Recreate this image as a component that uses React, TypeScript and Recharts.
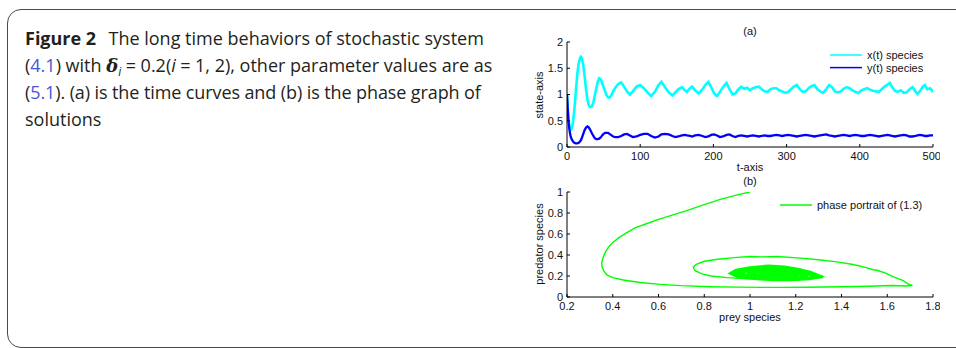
import { LineChart, Line, XAxis, YAxis, Legend } from "recharts";

// time curves, panel (a)
const timeT = [
  0, 1, 2, 3, 4, 5, 6, 8, 10, 12, 14, 16, 18, 19, 20, 22, 24, 26, 28, 30, 32, 34, 36, 38, 40, 42, 44,
  46, 48, 50, 52, 54, 56, 58, 60, 63, 66, 70, 74, 78, 82, 86, 90, 95, 100, 105, 110, 115, 120, 125,
  129, 134, 139, 144, 148, 152, 157, 161, 164, 168, 171, 175, 180, 185, 189, 193, 197, 201, 205, 209,
  213, 218, 222, 226, 230, 234, 238, 242, 246, 250, 254, 258, 262, 266, 270, 274, 278, 282, 286, 290,
  294, 298, 302, 306, 310, 314, 318, 322, 326, 330, 334, 338, 342, 346, 350, 354, 358, 362, 366, 370,
  374, 378, 382, 386, 390, 394, 398, 402, 406, 410, 414, 418, 422, 426, 430, 434, 438, 441, 444, 448,
  452, 456, 460, 464, 468, 472, 476, 479, 482, 486, 489, 492, 496, 500,
];
const preyX = [
  1.0, 0.75, 0.55, 0.43, 0.36, 0.33, 0.34, 0.45, 0.7, 1.05, 1.38, 1.6, 1.7, 1.72, 1.7, 1.58, 1.36, 1.1,
  0.9, 0.79, 0.76, 0.77, 0.85, 0.98, 1.12, 1.24, 1.31, 1.29, 1.22, 1.14, 1.06, 0.99, 0.95, 0.94, 0.97,
  1.06, 1.13, 1.2, 1.23, 1.15, 1.06, 1.0, 1.06, 1.15, 1.18, 1.12, 1.04, 0.97, 1.05, 1.18, 1.24, 1.14,
  1.04, 0.98, 1.04, 1.1, 1.14, 1.08, 1.05, 1.12, 1.15, 1.08, 1.02, 1.1, 1.18, 1.24, 1.14, 1.02, 0.97,
  1.05, 1.14, 1.22, 1.1, 1.0, 1.02, 1.1, 1.15, 1.11, 1.13, 1.08, 1.12, 1.14, 1.15, 1.1, 1.06, 1.05,
  1.1, 1.12, 1.12, 1.08, 1.06, 1.03, 1.05, 1.1, 1.15, 1.18, 1.1, 1.05, 1.06, 1.12, 1.16, 1.18, 1.1,
  1.06, 1.03, 1.1, 1.18, 1.14, 1.06, 1.04, 1.06, 1.11, 1.14, 1.12, 1.08, 1.05, 1.03, 1.08, 1.1, 1.12,
  1.09, 1.07, 1.06, 1.05, 1.1, 1.15, 1.19, 1.22, 1.14, 1.07, 1.05, 1.08, 1.03, 1.04, 1.1, 1.14, 1.06,
  1.01, 1.06, 1.15, 1.18, 1.1, 1.12, 1.05,
];
const predY = [
  1.0, 0.72, 0.5, 0.36, 0.27, 0.2, 0.16, 0.11, 0.08, 0.07, 0.07, 0.08, 0.11, 0.13, 0.16, 0.24, 0.32,
  0.37, 0.39, 0.37, 0.32, 0.26, 0.21, 0.17, 0.15, 0.15, 0.16, 0.18, 0.22, 0.25, 0.27, 0.27, 0.27, 0.25,
  0.23, 0.2, 0.19, 0.19, 0.21, 0.24, 0.25, 0.22, 0.19, 0.2, 0.23, 0.25, 0.25, 0.21, 0.18, 0.2, 0.24,
  0.25, 0.24, 0.21, 0.19, 0.2, 0.22, 0.23, 0.22, 0.21, 0.2, 0.22, 0.23, 0.21, 0.19, 0.2, 0.23, 0.24,
  0.22, 0.19, 0.2, 0.23, 0.24, 0.21, 0.19, 0.21, 0.22, 0.21, 0.2, 0.21, 0.22, 0.21, 0.2, 0.21, 0.22,
  0.21, 0.21, 0.22, 0.23, 0.22, 0.21, 0.22, 0.23, 0.22, 0.21, 0.2, 0.21, 0.22, 0.23, 0.22, 0.21, 0.2,
  0.21, 0.22, 0.23, 0.24, 0.22, 0.21, 0.2, 0.21, 0.22, 0.23, 0.22, 0.21, 0.22, 0.23, 0.22, 0.21, 0.21,
  0.22, 0.23, 0.22, 0.21, 0.2, 0.21, 0.22, 0.23, 0.22, 0.21, 0.2, 0.21, 0.22, 0.23, 0.22, 0.2, 0.2,
  0.21, 0.22, 0.23, 0.22, 0.21, 0.21, 0.22, 0.22,
];

// phase portrait, panel (b): outer transient orbit
const outerPrey = [
  1.0, 0.94, 0.87, 0.8, 0.72, 0.66, 0.6, 0.55, 0.5, 0.46, 0.43, 0.4, 0.38, 0.366, 0.357, 0.352, 0.353,
  0.36, 0.374, 0.4, 0.446, 0.52, 0.607, 0.7, 0.825, 0.95, 1.05, 1.12, 1.25, 1.4, 1.52, 1.62, 1.68, 1.71,
  1.69, 1.67, 1.63, 1.59, 1.555, 1.54, 1.5, 1.45, 1.38, 1.3, 1.22, 1.12, 1.05, 1.0, 0.93, 0.86, 0.8,
  0.765, 0.752, 0.76, 0.79, 0.83, 0.9, 0.97, 1.05, 1.12, 1.2, 1.26, 1.32, 1.28, 1.25,
];
const outerPred = [
  1.0, 0.97, 0.93, 0.88, 0.82, 0.78, 0.74, 0.7, 0.66, 0.61, 0.57, 0.52, 0.47, 0.42, 0.37, 0.33, 0.29,
  0.25, 0.21, 0.185, 0.162, 0.138, 0.12, 0.108, 0.098, 0.094, 0.092, 0.092, 0.093, 0.097, 0.102, 0.11,
  0.105, 0.11, 0.125, 0.155, 0.19, 0.23, 0.255, 0.26, 0.285, 0.31, 0.335, 0.355, 0.37, 0.385, 0.382,
  0.385, 0.375, 0.36, 0.34, 0.31, 0.285, 0.25, 0.22, 0.2, 0.185, 0.175, 0.17, 0.163, 0.165, 0.17,
  0.186, 0.2, 0.215,
];
// phase portrait, panel (b): tight spiral around the equilibrium
const innerPrey = [
  1.25, 1.22, 1.15, 1.08, 1.0, 0.94, 0.92, 0.95, 1.02, 1.1, 1.18, 1.26, 1.3, 1.26, 1.2, 1.12, 1.04,
  0.97, 0.95, 1.0, 1.08, 1.16, 1.23, 1.25, 1.18, 1.1, 1.03, 0.99, 1.04, 1.12, 1.19, 1.21, 1.14, 1.08,
  1.04, 1.09, 1.15, 1.1, 1.06,
];
const innerPred = [
  0.215, 0.255, 0.28, 0.29, 0.275, 0.25, 0.225, 0.195, 0.18, 0.17, 0.168, 0.178, 0.2, 0.235, 0.262,
  0.275, 0.268, 0.245, 0.22, 0.198, 0.185, 0.18, 0.19, 0.215, 0.245, 0.258, 0.248, 0.228, 0.205, 0.198,
  0.207, 0.225, 0.24, 0.242, 0.228, 0.212, 0.22, 0.23, 0.225,
];

const tTicks = [0, 100, 200, 300, 400, 500];
const stateTicks = [0, 0.5, 1, 1.5, 2];
const preyTicks = [0.2, 0.4, 0.6, 0.8, 1, 1.2, 1.4, 1.6, 1.8];
const predTicks = [0, 0.2, 0.4, 0.6, 0.8, 1];

const timeRows = timeT.map((t, i) => ({ t, x: preyX[i], y: predY[i] }));
const outerRows = outerPrey.map((p, i) => ({ p, q: outerPred[i] }));
const innerRows = innerPrey.map((p, i) => ({ p, q: innerPred[i] }));

const labelFont = "Liberation Sans, Arial, sans-serif";
const axisFont = { fontSize: 11, fill: "#111", fontFamily: labelFont };

const MatlabLegend = ({ payload }: any) => {
  const items = (payload || []).filter((p: any) => p.type !== "none");
  return (
    <svg width={130} height={items.length * 12.6 + 2} style={{ overflow: "visible" }}>
      {items.map((it: any, i: number) => (
        <g key={it.value}>
          <line x1={0} x2={32} y1={6 + i * 12.6} y2={6 + i * 12.6} stroke={it.color} strokeWidth={1.5} />
          <text x={37} y={10 + i * 12.6} fontSize={11} fontFamily={labelFont} fill="#111">
            {it.value}
          </text>
        </g>
      ))}
    </svg>
  );
};

const Centered = ({ x, y, text, rotate }: { x: number; y: number; text: string; rotate?: boolean }) => (
  <div
    style={{
      position: "absolute",
      left: x,
      top: y,
      transform: `translate(-50%, -50%)${rotate ? " rotate(-90deg)" : ""}`,
      whiteSpace: "nowrap",
      fontFamily: labelFont,
      fontSize: 11,
      color: "#111",
      lineHeight: "12px",
    }}
  >
    {text}
  </div>
);

// MATLAB-style boxed axes: ticks point inward on all four sides
const boxAxes = (xKey: string, xDomain: number[], xTicks: number[], yDomain: number[], yTicks: number[]) => [
  <XAxis
    key="xb"
    xAxisId="b"
    dataKey={xKey}
    type="number"
    domain={xDomain}
    ticks={xTicks}
    allowDataOverflow
    height={30}
    tickSize={-3}
    tickMargin={8}
    tick={axisFont}
    stroke="#000"
  />,
  <XAxis
    key="xt"
    xAxisId="t"
    orientation="top"
    dataKey={xKey}
    type="number"
    domain={xDomain}
    ticks={xTicks}
    allowDataOverflow
    height={0}
    tickSize={-3}
    tick={false}
    stroke="#000"
  />,
  <YAxis
    key="yl"
    yAxisId="l"
    type="number"
    domain={yDomain}
    ticks={yTicks}
    allowDataOverflow
    width={30}
    tickSize={-3}
    tickMargin={7}
    tick={axisFont}
    stroke="#000"
  />,
  <YAxis
    key="yr"
    yAxisId="r"
    orientation="right"
    type="number"
    domain={yDomain}
    ticks={yTicks}
    allowDataOverflow
    width={0}
    tickSize={-3}
    tick={false}
    stroke="#000"
  />,
];

const linkBlue = "#4557d6";
const eq = { margin: "0 4.5px" };

export default function App() {
  return (
    <div
      style={{
        position: "absolute",
        left: 0,
        top: 0,
        width: 956,
        height: 348,
        overflow: "hidden",
        background: "#fff",
      }}
    >
      <div
        style={{
          position: "absolute",
          left: 7,
          top: 9,
          width: 1000,
          height: 337,
          border: "1.5px solid #4a4a4a",
          borderRadius: 14,
        }}
      />
      <div
        style={{
          position: "absolute",
          left: 25,
          top: 25.4,
          fontFamily: "'Open Sans', sans-serif",
          fontSize: 18,
          lineHeight: "26.4px",
          color: "#231f20",
          whiteSpace: "nowrap",
        }}
      >
        <b style={{ marginRight: 3 }}>Figure 2</b>
        {"\u00a0\u00a0The long time behaviors of stochastic system"}
        <br />(<span style={{ color: linkBlue }}>4.1</span>) with{" "}
        <span style={{ fontFamily: "'DejaVu Serif', serif", fontStyle: "italic", fontWeight: "bold" }}>δ</span>
        <span style={{ fontStyle: "italic", fontSize: 12, position: "relative", top: 4, lineHeight: 0 }}>i</span>
        <span style={eq}>=</span>0.2(<i>i</i>
        <span style={eq}>=</span>1, 2), other parameter values are as
        <br />
        <span style={{ letterSpacing: -0.1 }}>
          (<span style={{ color: linkBlue }}>5.1</span>). (a) is the time curves and (b) is the phase graph of
        </span>
        <br />
        solutions
      </div>

      <Centered x={750} y={31} text="(a)" />
      <div style={{ position: "absolute", left: 520, top: 20 }}>
        <LineChart width={420} height={160} data={timeRows} margin={{ top: 22, right: 7, bottom: 3, left: 17 }}>
          {boxAxes("t", [0, 500], tTicks, [0, 2], stateTicks)}
          <Legend
            layout="vertical"
            align="center"
            verticalAlign="middle"
            wrapperStyle={{ left: 310, top: 28.5, width: 130, height: 30 }}
            content={<MatlabLegend />}
          />
          <Line
            xAxisId="b"
            yAxisId="l"
            dataKey="x"
            name="x(t) species"
            stroke="#00ffff"
            strokeWidth={2.6}
            dot={false}
            type="linear"
            isAnimationActive={false}
          />
          <Line
            xAxisId="b"
            yAxisId="l"
            dataKey="y"
            name="y(t) species"
            stroke="#0000ff"
            strokeWidth={2.3}
            dot={false}
            type="linear"
            isAnimationActive={false}
          />
        </LineChart>
      </div>
      <Centered x={539} y={94.5} text="state-axis" rotate />
      <Centered x={750} y={167} text="t-axis" />

      <Centered x={750} y={181} text="(b)" />
      <div style={{ position: "absolute", left: 520, top: 170 }}>
        <LineChart width={420} height={160} margin={{ top: 22, right: 7, bottom: 3, left: 17 }}>
          {boxAxes("p", [0.2, 1.8], preyTicks, [0, 1], predTicks)}
          <Legend
            layout="vertical"
            align="center"
            verticalAlign="middle"
            wrapperStyle={{ left: 260, top: 28.5, width: 170, height: 16 }}
            content={<MatlabLegend />}
          />
          <Line
            xAxisId="b"
            yAxisId="l"
            data={outerRows}
            dataKey="q"
            name="phase portrait of (1.3)"
            stroke="#00ff00"
            strokeWidth={1.4}
            dot={false}
            type="linear"
            isAnimationActive={false}
          />
          <Line
            xAxisId="b"
            yAxisId="l"
            data={innerRows}
            dataKey="q"
            name="spiral"
            legendType="none"
            stroke="#00ff00"
            strokeWidth={4}
            dot={false}
            type="linear"
            isAnimationActive={false}
          />
        </LineChart>
      </div>
      <Centered x={539} y={244} text="predator species" rotate />
      <Centered x={750} y={316.7} text="prey species" />
    </div>
  );
}
